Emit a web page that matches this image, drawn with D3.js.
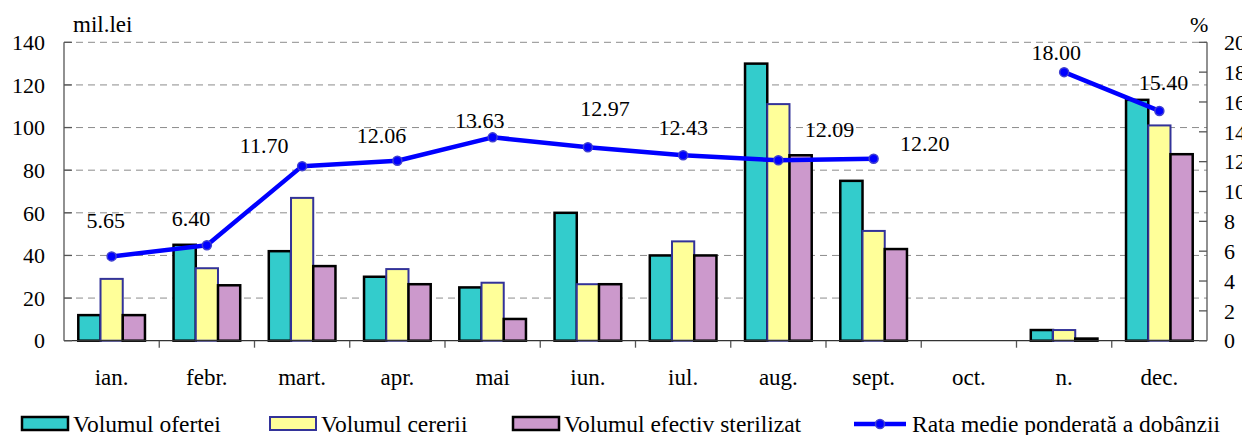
<!DOCTYPE html>
<html>
<head>
<meta charset="utf-8">
<script src="https://cdn.jsdelivr.net/npm/d3@7"></script>
<style>
  body { margin: 0; background: #fff; }
</style>
</head>
<body>
<svg id="chart" width="1242" height="435"></svg>
<script>
// data
months = ["ian.", "febr.", "mart.", "apr.", "mai", "iun.", "iul.", "aug.", "sept.", "oct.", "n.", "dec."];
oferta   = [12, 45, 42, 30, 25, 60, 40, 130, 75, null, 5, 113];
cerere   = [29, 34, 67, 33.6, 27.2, 26.5, 46.6, 111, 51.5, null, 5, 101];
sterilizat = [12, 26, 35, 26.5, 10.2, 26.5, 40, 87, 43, null, 1, 87.5];
rata = [5.65, 6.40, 11.70, 12.06, 13.63, 12.97, 12.43, 12.09, 12.20, null, 18.00, 15.40];
leftTicks = [0, 20, 40, 60, 80, 100, 120, 140];
rightTicks = [0, 2, 4, 6, 8, 10, 12, 14, 16, 18, 20];
seriesNames = ["Volumul ofertei", "Volumul cererii", "Volumul efectiv sterilizat"];
lineName = "Rata medie ponderată a dobânzii";

// where each rate label sits relative to its point (moved by hand in the original)
labelNudge = [[-6, -28], [-16, -19], [-38, -13], [-16, -18], [-13, -9], [17, -31],
              [0, -20], [51, -23], [51, -8], [0, 0], [-8, -12], [4, -21]];

let FONT = "Liberation Serif";
let svg = d3.select("#chart");
let plot = {left: 64, right: 1207, top: 42.3, bottom: 340.7};
let barFill = ["#33cccc", "#ffff99", "#cc99cc"];
let barStroke = ["#000", "#333399", "#000"];
let barStrokeW = [2.5, 2, 2.5];

let x0 = d3.scaleBand().domain(months).range([plot.left, plot.right])
    .paddingInner(0.3).paddingOuter(0.15);
let xCat = d3.scaleBand().domain(months).range([plot.left, plot.right]);
let x1 = d3.scaleBand().domain([0, 1, 2]).range([0, x0.bandwidth()]);
let yL = d3.scaleLinear().domain([0, 140]).range([plot.bottom, plot.top]);
let yR = d3.scaleLinear().domain([0, 20]).range([plot.bottom, plot.top]);

// grid
svg.append("g").selectAll("line")
    .data(leftTicks.filter(d => d > 0))
    .enter().append("line")
    .attr("x1", plot.left).attr("x2", plot.right)
    .attr("y1", d => yL(d)).attr("y2", d => yL(d))
    .attr("stroke", "#8c8c8c").attr("stroke-width", 1)
    .attr("stroke-dasharray", "7,5");

// bars
let series = [oferta, cerere, sterilizat];
let bars = [];
series.forEach(function(s, k){
    s.forEach(function(v, i){
        if (v == null) return;
        bars.push({k: k, m: months[i], v: v});
    });
});
svg.append("g").selectAll("rect")
    .data(bars)
    .enter().append("rect")
    .attr("x", d => x0(d.m) + x1(d.k))
    .attr("y", d => yL(d.v))
    .attr("width", x1.bandwidth())
    .attr("height", d => plot.bottom - yL(d.v))
    .attr("fill", d => barFill[d.k])
    .attr("stroke", d => barStroke[d.k])
    .attr("stroke-width", d => barStrokeW[d.k]);

// rate line
let pts = rata.map((v, i) => ({m: months[i], v: v, i: i}));
let line = d3.line()
    .defined(d => d.v != null)
    .x(d => xCat(d.m) + xCat.bandwidth() / 2)
    .y(d => yR(d.v));
svg.append("path")
    .datum(pts)
    .attr("d", line)
    .attr("fill", "none")
    .attr("stroke", "#0000ff")
    .attr("stroke-width", 4.5)
    .attr("stroke-linejoin", "round");

let okPts = pts.filter(d => d.v != null);
svg.append("g").selectAll("circle")
    .data(okPts)
    .enter().append("circle")
    .attr("cx", d => xCat(d.m) + xCat.bandwidth() / 2)
    .attr("cy", d => yR(d.v))
    .attr("r", 4.5)
    .attr("fill", "#0000ff")
    .attr("stroke", "#4040d0")
    .attr("stroke-width", 1.5);

svg.append("g").selectAll("text")
    .data(okPts)
    .enter().append("text")
    .attr("x", d => xCat(d.m) + xCat.bandwidth() / 2 + labelNudge[d.i][0])
    .attr("y", d => yR(d.v) + labelNudge[d.i][1])
    .attr("text-anchor", "middle")
    .attr("font-family", FONT).attr("font-size", 22)
    .text(d => d3.format(".2f")(d.v));

// axes
let axisCol = "#555";
let ax = svg.append("g").attr("stroke", axisCol).attr("stroke-width", 1.3);
ax.append("line").attr("x1", plot.left).attr("x2", plot.left)
    .attr("y1", plot.top).attr("y2", plot.bottom);
ax.append("line").attr("x1", plot.right).attr("x2", plot.right)
    .attr("y1", plot.top).attr("y2", plot.bottom);
ax.append("line").attr("x1", plot.left).attr("x2", plot.right)
    .attr("y1", plot.bottom).attr("y2", plot.bottom).attr("stroke", "#333");

ax.selectAll(".lt").data(leftTicks).enter().append("line")
    .attr("x1", plot.left).attr("x2", plot.left + 8)
    .attr("y1", d => yL(d)).attr("y2", d => yL(d));
ax.selectAll(".rt").data(rightTicks).enter().append("line")
    .attr("x1", plot.right - 8).attr("x2", plot.right)
    .attr("y1", d => yR(d)).attr("y2", d => yR(d));
ax.selectAll(".xt").data(months.slice(1)).enter().append("line")
    .attr("x1", d => xCat(d)).attr("x2", d => xCat(d))
    .attr("y1", plot.bottom).attr("y2", plot.bottom + 7);

svg.append("g").selectAll("text")
    .data(leftTicks).enter().append("text")
    .attr("x", 45).attr("y", d => yL(d))
    .attr("dy", "0.35em")
    .attr("text-anchor", "end")
    .attr("font-family", FONT).attr("font-size", 22)
    .text(d => d);

svg.append("g").selectAll("text")
    .data(rightTicks).enter().append("text")
    .attr("x", 1224).attr("y", d => yR(d))
    .attr("dy", "0.35em")
    .attr("font-family", FONT).attr("font-size", 22)
    .text(d => d);

svg.append("g").selectAll("text")
    .data(months).enter().append("text")
    .attr("x", d => xCat(d) + xCat.bandwidth() / 2)
    .attr("y", 385)
    .attr("text-anchor", "middle")
    .attr("font-family", FONT).attr("font-size", 23)
    .text(d => d);

svg.append("text").attr("x", 73).attr("y", 32)
    .attr("font-family", FONT).attr("font-size", 23).text("mil.lei");
svg.append("text").attr("x", 1190).attr("y", 32)
    .attr("font-family", FONT).attr("font-size", 22).text("%");

// legend
let legX = [22, 270, 513, 854];
let leg = svg.append("g");
seriesNames.forEach(function(name, k){
    leg.append("rect")
        .attr("x", legX[k]).attr("y", 417)
        .attr("width", 46).attr("height", 13)
        .attr("fill", barFill[k])
        .attr("stroke", barStroke[k])
        .attr("stroke-width", barStrokeW[k]);
    leg.append("text")
        .attr("x", legX[k] + 51).attr("y", 432)
        .attr("font-family", FONT).attr("font-size", 23.5)
        .text(name);
});
leg.append("line")
    .attr("x1", legX[3]).attr("x2", legX[3] + 52)
    .attr("y1", 424).attr("y2", 424)
    .attr("stroke", "#0000ff").attr("stroke-width", 4.5);
leg.append("circle")
    .attr("cx", legX[3] + 26).attr("cy", 424).attr("r", 4.5)
    .attr("fill", "#0000ff").attr("stroke", "#4040d0").attr("stroke-width", 1.5);
leg.append("text")
    .attr("x", legX[3] + 58).attr("y", 432)
    .attr("font-family", FONT).attr("font-size", 23.5)
    .text(lineName);
</script>
</body>
</html>
